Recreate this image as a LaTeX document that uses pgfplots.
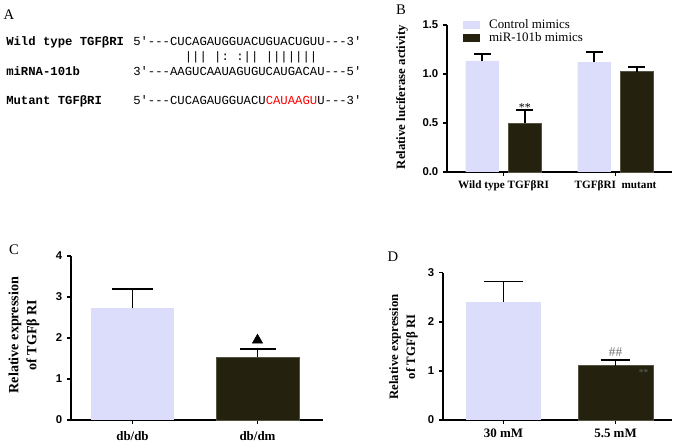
\documentclass[border=0pt]{standalone}
\usepackage{pgfplots}
\pgfplotsset{compat=1.18}
\usepackage{fontspec}
\setmainfont{Liberation Serif}
\setsansfont{Liberation Sans}
\setmonofont{Liberation Mono}
\definecolor{lightbar}{RGB}{220,221,250}
\definecolor{darkbar}{RGB}{36,34,14}
\definecolor{darkedge}{RGB}{85,83,65}
\pgfplotsset{
  gp/.style={
    scale only axis,
    anchor=south west,
    axis lines*=left,
    axis line style={line width=1.2pt, black},
    tick align=outside,
    major tick length=3pt,
    every tick/.style={line width=1.2pt, black},
    ymin=0,
    clip=false,
    xtick={1,2},
    /pgf/number format/assume math mode=true,
    yticklabel style={font=\sffamily\bfseries\fontsize{8.5}{10}\selectfont},
    xticklabel style={font=\bfseries\fontsize{9.7}{11}\selectfont},
    error bars/error bar style={line width=1.2pt, black},
  }
}
\begin{document}
\begin{tikzpicture}
\useasboundingbox (0,0) rectangle ({677*0.75pt},{443*0.75pt});

% ---------- Panel A ----------
\node[anchor=center, inner sep=0, font=\fontsize{11}{12}\selectfont] at ({9*0.75pt},{(443-15)*0.75pt}) {A};
\begin{scope}[every node/.style={anchor=mid west, inner sep=0pt}]
\node[font=\ttfamily\bfseries\fontsize{9.2}{11}\selectfont] at ({6*0.75pt},{(443-42)*0.75pt}) {Wild type TGFβRI};
\node[font=\ttfamily\fontsize{9.2}{11}\selectfont] at ({133*0.75pt},{(443-42)*0.75pt}) {5'---CUCAGAUGGUACUGUACUGUU---3'};
\node[font=\ttfamily\fontsize{9.2}{11}\selectfont] at ({133*0.75pt},{(443-57)*0.75pt}) {\phantom{5'---CU}||| |: :|| |||||||};
\node[font=\ttfamily\bfseries\fontsize{9.2}{11}\selectfont] at ({6*0.75pt},{(443-72)*0.75pt}) {miRNA-101b};
\node[font=\ttfamily\fontsize{9.2}{11}\selectfont] at ({133*0.75pt},{(443-72)*0.75pt}) {3'---AAGUCAAUAGUGUCAUGACAU---5'};
\node[font=\ttfamily\bfseries\fontsize{9.2}{11}\selectfont] at ({6*0.75pt},{(443-101)*0.75pt}) {Mutant TGFβRI};
\node[font=\ttfamily\fontsize{9.2}{11}\selectfont] at ({133*0.75pt},{(443-101)*0.75pt}) {5'---CUCAGAUGGUACU\textcolor{red}{CAUAAGU}U---3'};
\end{scope}

% ---------- Panel B ----------
\node[anchor=center, inner sep=0, font=\fontsize{11}{12}\selectfont] at ({401*0.75pt},{(443-10)*0.75pt}) {B};
\begin{axis}[gp,
  at={({447*0.75pt},{(443-172)*0.75pt})},
  width=168.75pt, height=110.25pt,
  xmin=0.4955, xmax=2.504, ymax=1.5,
  ytick={0,0.5,1,1.5},
  yticklabel style={/pgf/number format/.cd, fixed, fixed zerofill, precision=1},
  xticklabels={Wild type TGFβRI, TGFβRI\ \ mutant},
  xticklabel style={font=\bfseries\fontsize{8.4}{10}\selectfont},
  ylabel={Relative luciferase activity},
  ylabel style={at={(axis description cs:-0.2,0.51)}, anchor=center, font=\bfseries\fontsize{9.6}{11}\selectfont},
  legend image code/.code={\fill[#1, draw=none] (0pt,-3pt) rectangle (12.75pt,3pt);},
  legend style={at={(axis description cs:0.069,1.06)}, anchor=north west, draw=none, fill=none,
    font=\fontsize{9.7}{11}\selectfont, inner sep=0pt, row sep=-2.3pt,
    /tikz/every odd column/.append style={column sep=5pt}},
  legend cell align=left,
]
\addplot[ybar, bar width=0.295, bar shift=0, fill=lightbar, draw=none,
  error bars/.cd, y dir=plus, y explicit, error mark options={rotate=90, line width=1.2pt, mark size=6.4pt, black}]
  coordinates {(0.81,1.133) +- (0,0.072) (1.81,1.12) +- (0,0.102)};
\addlegendentry{Control mimics}
\addplot[ybar, bar width=0.295, bar shift=0, fill=darkbar, draw=darkedge, line width=0.5pt,
  error bars/.cd, y dir=plus, y explicit, error mark options={rotate=90, line width=1.2pt, mark size=6.4pt, black}]
  coordinates {(1.19,0.499) +- (0,0.135) (2.19,1.024) +- (0,0.045)};
\addlegendentry{miR-101b mimics}
\node[anchor=base, inner sep=0, font=\fontsize{9}{10}\selectfont] at (axis cs:1.19,0.615) {**};
\end{axis}

% ---------- Panel C ----------
\node[anchor=center, inner sep=0, font=\fontsize{11}{12}\selectfont] at ({14*0.75pt},{(443-250)*0.75pt}) {C};
\begin{axis}[gp,
  at={({71*0.75pt},{(443-420)*0.75pt})},
  width=189pt, height=123pt,
  xmin=0.508, xmax=2.524, ymax=4,
  ytick={0,1,2,3,4},
  xticklabels={db/db, db/dm},
  xticklabel style={yshift=-2pt},
  ylabel={Relative expression\\of TGFβ RI},
  ylabel style={at={(axis description cs:-0.1865,0.518)}, anchor=center, align=center, font=\bfseries\fontsize{10.6}{13.5}\selectfont},
]
\addplot[ybar, bar width=0.666, bar shift=0, fill=lightbar, draw=none,
  error bars/.cd, y dir=plus, y explicit, error mark options={rotate=90, line width=1.2pt, mark size=15.4pt, black}]
  coordinates {(1,2.72) +- (0,0.475)};
\addplot[ybar, bar width=0.666, bar shift=0, fill=darkbar, draw=darkedge, line width=0.5pt,
  error bars/.cd, y dir=plus, y explicit, error mark options={rotate=90, line width=1.2pt, mark size=13.5pt, black}]
  coordinates {(2,1.53) +- (0,0.2)};
\addplot[only marks, mark=triangle*, mark size=4.5pt, black] coordinates {(2,1.946)};
\end{axis}

% ---------- Panel D ----------
\node[anchor=center, inner sep=0, font=\fontsize{11}{12}\selectfont] at ({393*0.75pt},{(443-257)*0.75pt}) {D};
\begin{axis}[gp,
  at={({443*0.75pt},{(443-420)*0.75pt})},
  width=171.75pt, height=110.5pt,
  xmin=0.46, xmax=2.504, ymax=3,
  ytick={0,1,2,3},
  xticklabels={30 mM, 5.5 mM},
  ylabel={Relative expression\\of TGFβ RI},
  ylabel style={at={(axis description cs:-0.1725,0.496)}, anchor=center, align=center, font=\bfseries\fontsize{9.6}{12.75}\selectfont},
]
\addplot[ybar, bar width=0.67, bar shift=0, fill=lightbar, draw=none,
  error bars/.cd, y dir=plus, y explicit, error mark options={rotate=90, line width=1.2pt, mark size=14.6pt, black}]
  coordinates {(1,2.41) +- (0,0.41)};
\addplot[ybar, bar width=0.67, bar shift=0, fill=darkbar, draw=darkedge, line width=0.5pt,
  error bars/.cd, y dir=plus, y explicit, error mark options={rotate=90, line width=1.2pt, mark size=11.1pt, black}]
  coordinates {(2,1.106) +- (0,0.114)};
\node[anchor=center, inner sep=0, text=black!55, font=\fontsize{10}{11}\selectfont] at (axis cs:2,1.39) {\#\#};
\node[anchor=center, inner sep=0, text=black!60, font=\fontsize{7}{8}\selectfont] at (axis cs:2.25,0.97) {**};
\end{axis}
\end{tikzpicture}
\end{document}
